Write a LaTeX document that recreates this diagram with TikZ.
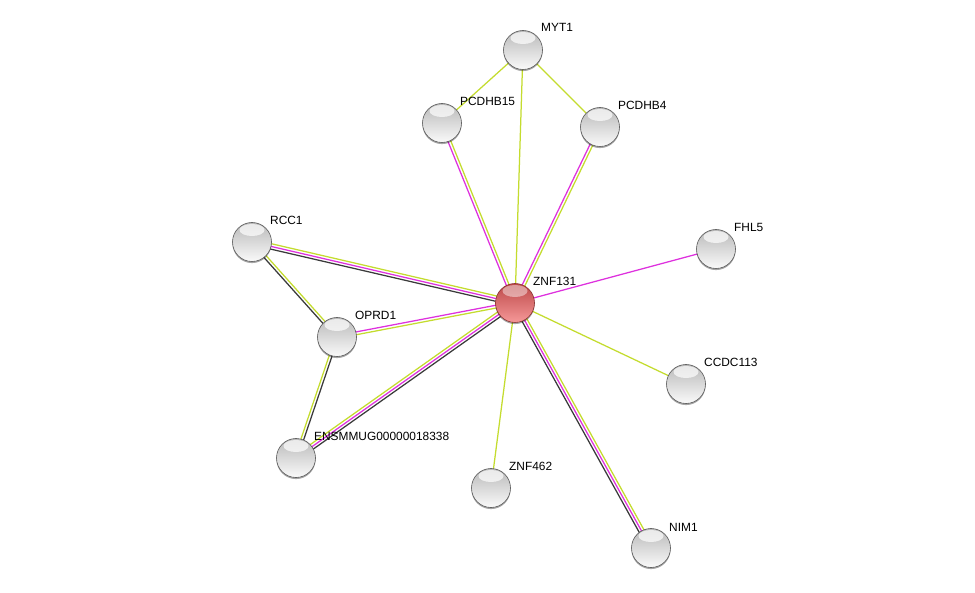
\documentclass[tikz,border=0pt]{standalone}
\usepackage{fontspec}
\setmainfont{Liberation Sans}
\usetikzlibrary{calc,shadows}
\pgfdeclarelayer{edges}
\pgfsetlayers{edges,main}
\definecolor{tmc}{RGB}{196,220,46}
\definecolor{exc}{RGB}{222,48,222}
\definecolor{coc}{RGB}{58,58,58}
\definecolor{redtop}{RGB}{188,72,72}
\definecolor{redbot}{RGB}{246,152,152}
\definecolor{redrim}{RGB}{135,48,48}
\newcommand\edgeone[3]{\draw[#3] (#1.center) -- (#2.center);}
\newcommand\edgetwo[4]{%
  \draw[#3] ($(#1.center)!1.4pt!90:(#2.center)$) -- ($(#2.center)!1.4pt!-90:(#1.center)$);
  \draw[#4] ($(#1.center)!1.4pt!-90:(#2.center)$) -- ($(#2.center)!1.4pt!90:(#1.center)$);}
\newcommand\edgethree[5]{%
  \draw[#3] ($(#1.center)!2.7pt!90:(#2.center)$) -- ($(#2.center)!2.7pt!-90:(#1.center)$);
  \draw[#4] (#1.center) -- (#2.center);
  \draw[#5] ($(#1.center)!2.7pt!-90:(#2.center)$) -- ($(#2.center)!2.7pt!90:(#1.center)$);}
\begin{document}
\begin{tikzpicture}[x=1pt,y=-1pt,
  ball/.style={circle,minimum size=39pt,inner sep=0pt,draw=gray!70!black,line width=0.6pt,
    top color=gray!55,bottom color=gray!4,
    drop shadow={shadow xshift=0pt,shadow yshift=-1.6pt,fill=black,opacity=0.35},
    path picture={\fill[white,opacity=0.7] ([yshift=-7.5pt]path picture bounding box.north) ellipse (12.5pt and 6pt);}},
  redball/.style={ball,draw=redrim,top color=redtop,bottom color=redbot,
    path picture={\fill[white,opacity=0.45] ([yshift=-7.5pt]path picture bounding box.north) ellipse (12.5pt and 6pt);}},
  lab/.style={anchor=base west,inner sep=0pt,font=\fontsize{11.9}{14}\selectfont},
  tm/.style={tmc,line width=1.25pt},
  ex/.style={exc,line width=1.25pt},
  co/.style={coc,line width=1.25pt}]
\useasboundingbox (0,0) rectangle (975,593);
\node[ball] (MYT1) at (523,50) {};
\node[ball] (PCDHB15) at (442,123) {};
\node[ball] (PCDHB4) at (600,127) {};
\node[ball] (RCC1) at (252,242) {};
\node[ball] (FHL5) at (716,249) {};
\node[redball] (ZNF131) at (515,303) {};
\node[ball] (OPRD1) at (337,337) {};
\node[ball] (CCDC113) at (686,384) {};
\node[ball] (ENS) at (296,458) {};
\node[ball] (ZNF462) at (491,488) {};
\node[ball] (NIM1) at (651,548) {};
\node[lab] (lMYT1) at (541,32) {MYT1};
\node[lab] (lPCDHB15) at (460,106) {PCDHB15};
\node[lab] (lPCDHB4) at (618,110) {PCDHB4};
\node[lab] (lRCC1) at (270,225) {RCC1};
\node[lab] (lFHL5) at (734,232) {FHL5};
\node[lab] (lZNF131) at (533,286) {ZNF131};
\node[lab] (lOPRD1) at (355,320) {OPRD1};
\node[lab] (lCCDC113) at (704,367) {CCDC113};
\node[lab] (lENS) at (314,441) {ENSMMUG00000018338};
\node[lab] (lZNF462) at (509,471) {ZNF462};
\node[lab] (lNIM1) at (669,531) {NIM1};
\begin{pgfonlayer}{edges}
\fill[white] (0,0) rectangle (975,593);
\edgeone{MYT1}{PCDHB15}{tm}
\edgeone{MYT1}{PCDHB4}{tm}
\edgeone{MYT1}{ZNF131}{tm}
\edgetwo{PCDHB15}{ZNF131}{tm}{ex}
\edgetwo{PCDHB4}{ZNF131}{tm}{ex}
\edgeone{FHL5}{ZNF131}{ex}
\edgethree{RCC1}{ZNF131}{tm}{ex}{co}
\edgetwo{RCC1}{OPRD1}{tm}{co}
\edgetwo{OPRD1}{ZNF131}{ex}{tm}
\edgetwo{OPRD1}{ENS}{co}{tm}
\edgethree{ENS}{ZNF131}{tm}{ex}{co}
\edgeone{ZNF462}{ZNF131}{tm}
\edgeone{CCDC113}{ZNF131}{tm}
\edgethree{ZNF131}{NIM1}{tm}{ex}{co}
\end{pgfonlayer}
\end{tikzpicture}
\end{document}
